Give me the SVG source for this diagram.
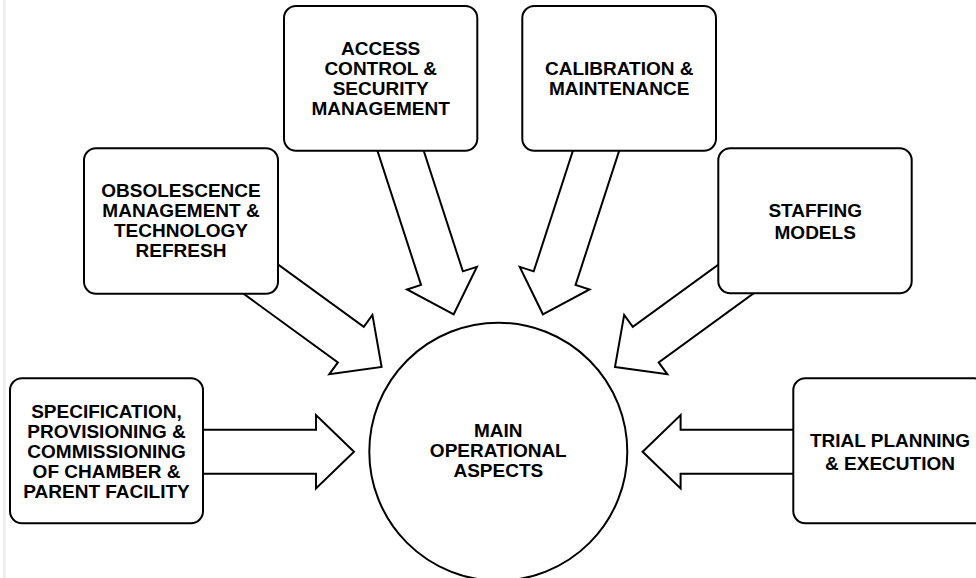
<svg xmlns="http://www.w3.org/2000/svg" xmlns:xlink="http://www.w3.org/1999/xlink" width="976" height="578" viewBox="0 0 976 578">
<style>
.box{fill:#fff;stroke:#000;stroke-width:2}
.arrow{fill:#fff;stroke:#000;stroke-width:2;stroke-linejoin:miter}
.lbl{font-family:"Liberation Sans",Arial,Helvetica,sans-serif;font-weight:bold;font-size:19px;fill:#000;text-anchor:middle}
</style>
<defs>
<path id="arr" d="M0,0 L-38,-36.7 L-38,-22 L-200,-22 L-200,22 L-38,22 L-38,36.7 Z"/>
</defs>
<rect x="0" y="0" width="976" height="578" fill="#fff"/>
<rect x="3" y="0" width="2.5" height="578" fill="#ececec"/>
<g id="connectors">
<use xlink:href="#arr" href="#arr" class="arrow" transform="translate(354,451.7) rotate(0)"/>
<use xlink:href="#arr" href="#arr" class="arrow" transform="translate(381.6,366.9) rotate(36)"/>
<use xlink:href="#arr" href="#arr" class="arrow" transform="translate(453.7,314.3) rotate(72)"/>
<use xlink:href="#arr" href="#arr" class="arrow" transform="translate(542.9,314.3) rotate(108)"/>
<use xlink:href="#arr" href="#arr" class="arrow" transform="translate(615,366.9) rotate(144)"/>
<use xlink:href="#arr" href="#arr" class="arrow" transform="translate(642.6,451.7) rotate(180)"/>
</g>
<g id="main">
<circle class="box" cx="498.3" cy="451.7" r="129"/>
<text class="lbl" x="498.3" y="437">MAIN</text>
<text class="lbl" x="498.3" y="457">OPERATIONAL</text>
<text class="lbl" x="498.3" y="477">ASPECTS</text>
</g>
<g id="spec">
<rect class="box" x="10" y="378.3" width="193" height="145" rx="12"/>
<text class="lbl" x="106.5" y="418.3">SPECIFICATION,</text>
<text class="lbl" x="106.5" y="438.3">PROVISIONING &amp;</text>
<text class="lbl" x="106.5" y="458.3">COMMISSIONING</text>
<text class="lbl" x="106.5" y="478.3">OF CHAMBER &amp;</text>
<text class="lbl" x="106.5" y="498.3">PARENT FACILITY</text>
</g>
<g id="obsolescence">
<rect class="box" x="84" y="148.3" width="194" height="145.5" rx="12"/>
<text class="lbl" x="181" y="196.7">OBSOLESCENCE</text>
<text class="lbl" x="181" y="216.7">MANAGEMENT &amp;</text>
<text class="lbl" x="181" y="236.7">TECHNOLOGY</text>
<text class="lbl" x="181" y="256.7">REFRESH</text>
</g>
<g id="access">
<rect class="box" x="284" y="6" width="193.3" height="144.7" rx="12"/>
<text class="lbl" x="380.7" y="55">ACCESS</text>
<text class="lbl" x="380.7" y="75">CONTROL &amp;</text>
<text class="lbl" x="380.7" y="95">SECURITY</text>
<text class="lbl" x="380.7" y="115">MANAGEMENT</text>
</g>
<g id="calibration">
<rect class="box" x="522.3" y="6" width="193.7" height="144.7" rx="12"/>
<text class="lbl" x="619.2" y="75">CALIBRATION &amp;</text>
<text class="lbl" x="619.2" y="95">MAINTENANCE</text>
</g>
<g id="staffing">
<rect class="box" x="718.3" y="148.3" width="193.4" height="145" rx="12"/>
<text class="lbl" x="815.2" y="217.3">STAFFING</text>
<text class="lbl" x="815.2" y="239.3">MODELS</text>
</g>
<g id="trial">
<rect class="box" x="793.3" y="378.3" width="193" height="145" rx="12"/>
<text class="lbl" x="890" y="447">TRIAL PLANNING</text>
<text class="lbl" x="890" y="469.5">&amp; EXECUTION</text>
</g>
</svg>
